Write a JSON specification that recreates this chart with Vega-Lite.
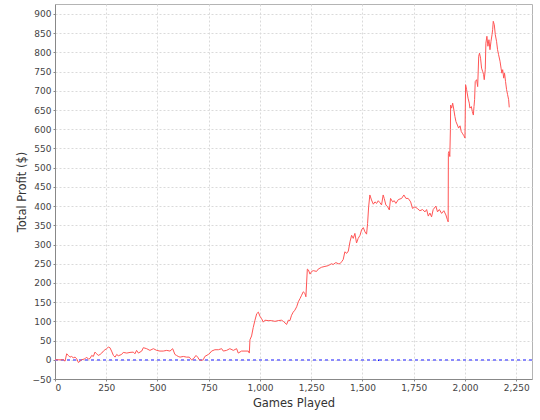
{
  "$schema": "https://vega.github.io/schema/vega-lite/v6.json",
  "autosize": {"type": "none"},
  "padding": {"left": 55, "top": 4, "right": 8, "bottom": 41},
  "width": 477,
  "height": 375,
  "background": "white",
  "config": {
    "view": {"stroke": "#b4b4b4", "strokeWidth": 1},
    "axis": {
      "labelFont": "DejaVu Sans",
      "labelFontSize": 9,
      "labelColor": "#444444",
      "labelOverlap": false,
      "titleFont": "DejaVu Sans",
      "titleFontSize": 11.5,
      "titleFontWeight": "normal",
      "titleColor": "#333333",
      "domainColor": "#888888",
      "tickColor": "#888888",
      "tickSize": 2,
      "labelPadding": 2,
      "grid": true,
      "gridColor": "#dadada",
      "gridDash": [2, 2],
      "gridWidth": 1
    }
  },
  "data": {
    "values": [
      {"g":0,"p":0},{"g":41,"p":0},{"g":49,"p":-3.5},{"g":57,"p":15.7},{"g":65,"p":11.3},{"g":73,"p":6.9},{"g":81,"p":8.7},{"g":89,"p":5.2},{"g":98,"p":6.9},{"g":106,"p":2.5},{"g":114,"p":-7.1},{"g":122,"p":-3.6},{"g":130,"p":0},{"g":146,"p":2.5},{"g":154,"p":6.9},{"g":163,"p":1.7},{"g":171,"p":3.5},{"g":179,"p":11.3},{"g":187,"p":8.7},{"g":195,"p":20},{"g":203,"p":15.7},{"g":211,"p":11.3},{"g":220,"p":13.9},{"g":228,"p":17.5},{"g":236,"p":22.7},{"g":244,"p":26.2},{"g":252,"p":28.9},{"g":260,"p":33},{"g":268,"p":31.5},{"g":276,"p":22.7},{"g":285,"p":11.3},{"g":293,"p":6.9},{"g":301,"p":13.9},{"g":309,"p":10.4},{"g":325,"p":13.9},{"g":333,"p":19.2},{"g":350,"p":17.5},{"g":366,"p":19.2},{"g":382,"p":20},{"g":390,"p":15.7},{"g":398,"p":24.5},{"g":407,"p":17.5},{"g":423,"p":22.7},{"g":431,"p":31.5},{"g":447,"p":28.9},{"g":463,"p":24.5},{"g":480,"p":28.9},{"g":496,"p":24.5},{"g":512,"p":22.7},{"g":528,"p":22.7},{"g":545,"p":24.5},{"g":561,"p":22.7},{"g":574,"p":28.9},{"g":585,"p":13.9},{"g":593,"p":11.3},{"g":601,"p":8.7},{"g":610,"p":6.9},{"g":626,"p":8.7},{"g":642,"p":6.9},{"g":655,"p":6.9},{"g":666,"p":0},{"g":675,"p":2.5},{"g":688,"p":11.3},{"g":696,"p":6.9},{"g":704,"p":0},{"g":715,"p":-1.7},{"g":723,"p":0},{"g":731,"p":8.7},{"g":748,"p":13.9},{"g":756,"p":17.5},{"g":764,"p":22.7},{"g":780,"p":26.2},{"g":797,"p":26.2},{"g":813,"p":28.9},{"g":821,"p":22.7},{"g":837,"p":24.5},{"g":853,"p":28.9},{"g":870,"p":24.5},{"g":886,"p":28.9},{"g":894,"p":17.5},{"g":910,"p":22.7},{"g":927,"p":22.7},{"g":943,"p":22.7},{"g":948,"p":17.5},{"g":951,"p":52},{"g":959,"p":62},{"g":967,"p":84},{"g":975,"p":102},{"g":984,"p":120},{"g":992,"p":124},{"g":1000,"p":113},{"g":1008,"p":107},{"g":1016,"p":98},{"g":1024,"p":103},{"g":1040,"p":102},{"g":1057,"p":102},{"g":1073,"p":100},{"g":1089,"p":102},{"g":1105,"p":103},{"g":1114,"p":100},{"g":1130,"p":92},{"g":1138,"p":103},{"g":1146,"p":102},{"g":1154,"p":116},{"g":1162,"p":124},{"g":1170,"p":129},{"g":1179,"p":138},{"g":1187,"p":151},{"g":1195,"p":159},{"g":1203,"p":168},{"g":1211,"p":177},{"g":1219,"p":173},{"g":1224,"p":164},{"g":1231,"p":236},{"g":1236,"p":234},{"g":1244,"p":223},{"g":1252,"p":230},{"g":1260,"p":232},{"g":1276,"p":230},{"g":1284,"p":236},{"g":1301,"p":241},{"g":1317,"p":243},{"g":1333,"p":245},{"g":1349,"p":250},{"g":1357,"p":248},{"g":1370,"p":253},{"g":1382,"p":250},{"g":1390,"p":250},{"g":1398,"p":255},{"g":1406,"p":261},{"g":1414,"p":281},{"g":1423,"p":277},{"g":1431,"p":283},{"g":1439,"p":307},{"g":1447,"p":324},{"g":1455,"p":316},{"g":1463,"p":329},{"g":1471,"p":304},{"g":1479,"p":316},{"g":1488,"p":324},{"g":1496,"p":339},{"g":1504,"p":344},{"g":1512,"p":333},{"g":1520,"p":327},{"g":1525,"p":355},{"g":1530,"p":398},{"g":1536,"p":429},{"g":1544,"p":416},{"g":1553,"p":405},{"g":1561,"p":411},{"g":1569,"p":407},{"g":1577,"p":414},{"g":1585,"p":409},{"g":1593,"p":403},{"g":1601,"p":429},{"g":1606,"p":420},{"g":1614,"p":403},{"g":1623,"p":398},{"g":1631,"p":390},{"g":1637,"p":420},{"g":1647,"p":411},{"g":1655,"p":414},{"g":1663,"p":407},{"g":1675,"p":417},{"g":1691,"p":420},{"g":1702,"p":429},{"g":1712,"p":420},{"g":1723,"p":420},{"g":1735,"p":411},{"g":1744,"p":394},{"g":1756,"p":398},{"g":1767,"p":394},{"g":1780,"p":388},{"g":1793,"p":391},{"g":1805,"p":385},{"g":1813,"p":391},{"g":1821,"p":374},{"g":1829,"p":382},{"g":1837,"p":372},{"g":1845,"p":391},{"g":1858,"p":400},{"g":1866,"p":385},{"g":1875,"p":391},{"g":1886,"p":381},{"g":1897,"p":388},{"g":1907,"p":377},{"g":1914,"p":365},{"g":1918,"p":359},{"g":1919,"p":537},{"g":1922,"p":542},{"g":1926,"p":529},{"g":1929,"p":600},{"g":1930,"p":663},{"g":1935,"p":655},{"g":1940,"p":668},{"g":1946,"p":650},{"g":1951,"p":633},{"g":1956,"p":620},{"g":1963,"p":611},{"g":1969,"p":603},{"g":1976,"p":609},{"g":1982,"p":594},{"g":1989,"p":588},{"g":1995,"p":583},{"g":2000,"p":577},{"g":2003,"p":716},{"g":2008,"p":703},{"g":2015,"p":681},{"g":2021,"p":668},{"g":2024,"p":655},{"g":2031,"p":659},{"g":2036,"p":646},{"g":2041,"p":637},{"g":2044,"p":659},{"g":2047,"p":677},{"g":2050,"p":724},{"g":2057,"p":729},{"g":2062,"p":711},{"g":2067,"p":790},{"g":2071,"p":798},{"g":2076,"p":785},{"g":2081,"p":759},{"g":2086,"p":751},{"g":2091,"p":742},{"g":2094,"p":729},{"g":2099,"p":755},{"g":2102,"p":824},{"g":2107,"p":842},{"g":2112,"p":816},{"g":2117,"p":833},{"g":2122,"p":807},{"g":2127,"p":829},{"g":2132,"p":846},{"g":2135,"p":859},{"g":2138,"p":881},{"g":2143,"p":872},{"g":2148,"p":846},{"g":2154,"p":829},{"g":2159,"p":807},{"g":2164,"p":794},{"g":2171,"p":777},{"g":2176,"p":759},{"g":2180,"p":746},{"g":2184,"p":755},{"g":2189,"p":733},{"g":2193,"p":746},{"g":2198,"p":724},{"g":2203,"p":703},{"g":2208,"p":690},{"g":2213,"p":677},{"g":2216,"p":657}
    ]
  },
  "layer": [
    {
      "mark": {"type": "rule", "color": "#8888ff", "strokeDash": [3, 3], "strokeWidth": 0.7},
      "encoding": {"y": {"datum": 0, "type": "quantitative", "scale": {"domain": [-50, 926], "nice": false, "zero": false}}}
    },
    {
      "mark": {"type": "line", "color": "#ff5555", "strokeWidth": 1, "clip": true},
      "encoding": {
        "x": {
          "field": "g", "type": "quantitative",
          "scale": {"domain": [0, 2327], "nice": false, "zero": false},
          "axis": {"title": "Games Played", "values": [0,250,500,750,1000,1250,1500,1750,2000,2250], "tickCount": 20, "format": ",d", "titlePadding": 5, "labelOverlap": false}
        },
        "y": {
          "field": "p", "type": "quantitative",
          "scale": {"domain": [-50, 926], "nice": false, "zero": false},
          "axis": {"title": "Total Profit ($)", "values": [-50,0,50,100,150,200,250,300,350,400,450,500,550,600,650,700,750,800,850,900], "tickCount": 30, "titlePadding": 5, "grid": true, "labelOverlap": false, "labelBound": false, "labelFlush": false}
        }
      }
    }
  ]
}
